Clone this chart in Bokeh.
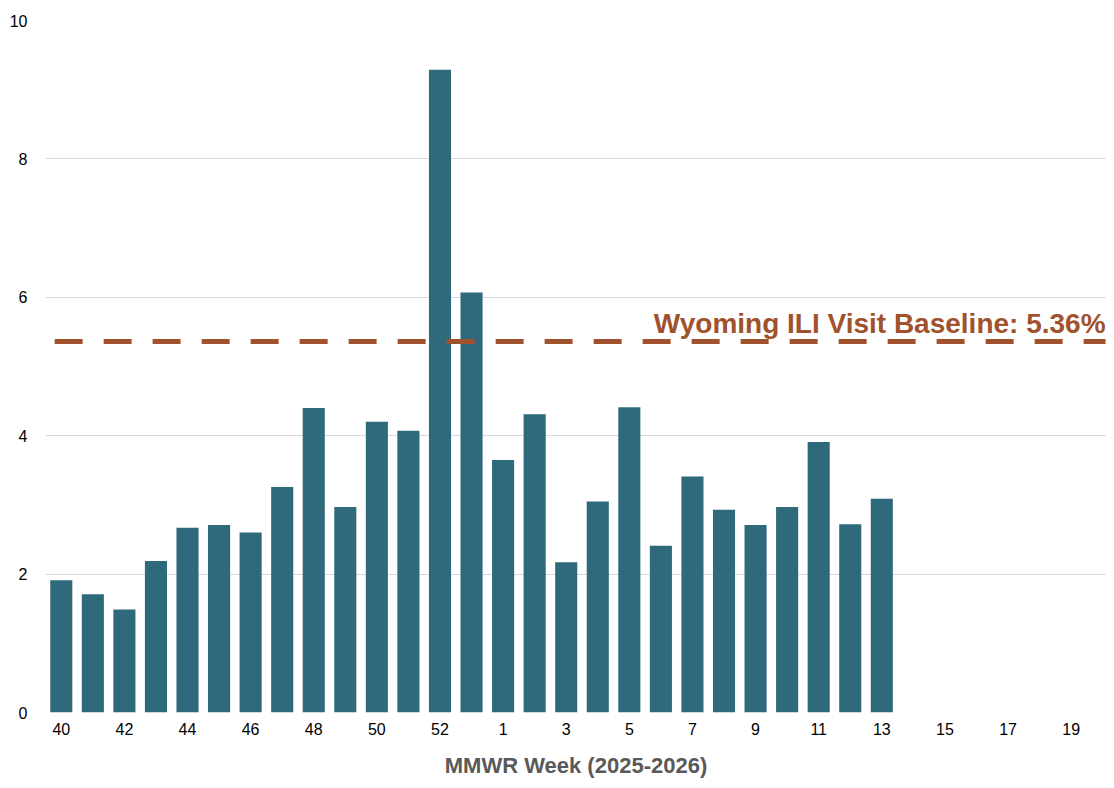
from bokeh.plotting import figure
from bokeh.models import Range1d, FixedTicker
from bokeh.embed import file_html
from bokeh.resources import INLINE
from bokeh.core.properties import value

# ---- data ----
weeks = list(range(40, 54)) + list(range(1, 20))
ili_pct = [1.91, 1.71, 1.49, 2.19, 2.67, 2.71, 2.60, 3.26, 4.40, 2.97,
           4.20, 4.07, 9.29, 6.07, 3.65, 4.31, 2.17, 3.05, 4.41, 2.41,
           3.41, 2.93, 2.71, 2.97, 3.91, 2.72, 3.09]
baseline = 5.36
baseline_label = "Wyoming ILI Visit Baseline: 5.36%"
y_ticks = [0, 2, 4, 6, 8, 10]
x_title = "MMWR Week (2025-2026)"

FONT = "Liberation Sans"
BAR = "#2E6A7C"
ORANGE = "#A0522D"

idx = list(range(len(ili_pct)))

FRAME_H = 780 - 20 - 66
label_lift = 18 * 10.0 / FRAME_H  # px above the line, in y units

p = figure(width=1106, height=780, output_backend="svg", toolbar_location=None,
           x_range=Range1d(-0.5, 33.12), y_range=Range1d(0, 10),
           min_border_left=45, min_border_right=0, min_border_top=20,
           min_border_bottom=66)
p.outline_line_color = None
p.background_fill_color = "white"
p.border_fill_color = "white"

p.vbar(x=idx, top=ili_pct, width=0.70, bottom=0, fill_color=BAR, line_color=None)

# baseline
p.line(x=[-0.21, 33.09], y=[baseline, baseline], line_color=ORANGE,
       line_width=5, line_dash="28 21")
p.text(x=[33.09], y=[baseline + label_lift], text=[baseline_label], text_align="right",
       text_baseline="alphabetic", text_color=ORANGE,
       text_font=value(FONT), text_font_style="bold", text_font_size="28px")

# axes
p.xgrid.visible = False
p.ygrid.ticker = FixedTicker(ticks=y_ticks)
p.ygrid.grid_line_color = "#D9D9D9"
p.ygrid.grid_line_width = 1

p.yaxis.ticker = FixedTicker(ticks=y_ticks)
p.yaxis.axis_line_color = None
p.yaxis.major_tick_line_color = None
p.yaxis.minor_tick_line_color = None
p.yaxis.major_tick_out = 0
p.yaxis.major_tick_in = 0
p.yaxis.major_label_standoff = 18
p.yaxis.major_label_text_font = FONT
p.yaxis.major_label_text_font_size = "16px"
p.yaxis.major_label_text_color = "#000000"

even = [i for i in range(len(weeks)) if i % 2 == 0]
p.xaxis.ticker = FixedTicker(ticks=even)
p.xaxis.major_label_overrides = {i: str(weeks[i]) for i in even}
p.xaxis.axis_line_color = None
p.xaxis.major_tick_line_color = None
p.xaxis.minor_tick_line_color = None
p.xaxis.major_tick_out = 0
p.xaxis.major_tick_in = 0
p.xaxis.major_label_standoff = 10
p.xaxis.major_label_text_font = FONT
p.xaxis.major_label_text_font_size = "16px"
p.xaxis.major_label_text_color = "#000000"
p.xaxis.axis_label = x_title
p.xaxis.axis_label_text_font = FONT
p.xaxis.axis_label_text_font_style = "bold"
p.xaxis.axis_label_text_font_size = "22px"
p.xaxis.axis_label_text_color = "#595959"
p.xaxis.axis_label_standoff = 15

open("out.html", "w").write(file_html(p, INLINE))
